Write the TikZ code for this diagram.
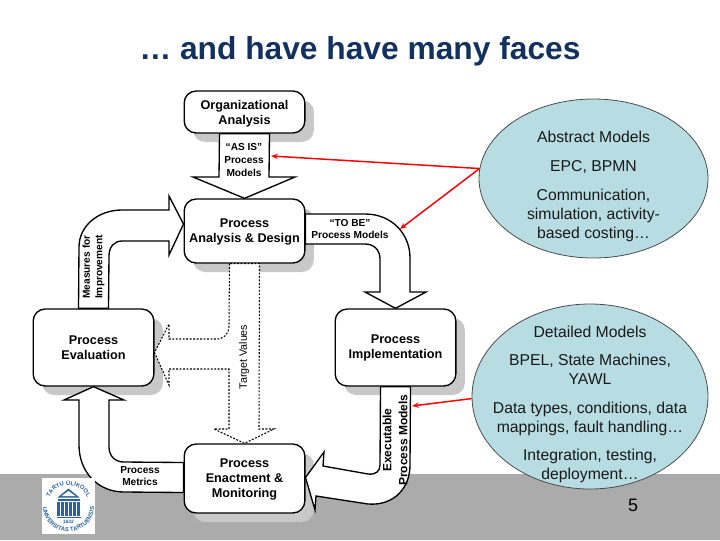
\documentclass[tikz,border=0pt]{standalone}
\usepackage{fontspec}
\usepackage{xcolor}
\setmainfont{Liberation Sans}
\usetikzlibrary{arrows.meta, positioning, calc, shapes.geometric, shadows, decorations.text}

\definecolor{titleblue}{HTML}{13315F}
\definecolor{bandgray}{HTML}{ABABAB}
\definecolor{shadowgray}{HTML}{C8C8C8}
\definecolor{modelblue}{HTML}{B7DDE3}
\definecolor{logoblue}{HTML}{2A62A0}

\newcommand{\cloudtext}[1]{\smash{\makebox[0pt]{\raisebox{-9.2pt}{\begin{tabular}{@{}c@{}}#1\end{tabular}}}}}

\tikzset{
  procbox/.style={draw=black, fill=white, line width=1pt, rounded corners=9pt, align=center,
    minimum width=90.5pt, inner sep=0pt, font=\fontsize{9.5}{11.3}\selectfont\bfseries,
    copy shadow={shadow xshift=6.75pt, shadow yshift=-6.75pt, draw=none, fill=shadowgray}},
  blockarrow/.style={draw=black, fill=white, line width=1pt, line join=miter},
  targetarrow/.style={draw=black, fill=white, line width=.8pt, dash pattern=on 1.4pt off 1.2pt},
  flowlabel/.style={align=center, inner sep=0pt, font=\fontsize{7.6}{9.4}\selectfont\bfseries},
  modelcloud/.style={ellipse, draw=black!70, fill=modelblue, line width=.6pt, inner sep=0pt,
    align=center, text=black!90, font=\fontsize{11.8}{14.25}\selectfont},
  redarrow/.style={draw=red, line width=1.1pt, -{Stealth[length=5pt,width=4pt]}}
}

\begin{document}
\begin{tikzpicture}[x=.75pt, y=-.75pt]
  \useasboundingbox (0,0) rectangle (720,540);
  \fill[bandgray] (0,474) rectangle (720,540);

  \node[anchor=center, text=titleblue, font=\fontsize{23.8}{28}\selectfont\bfseries] (title) at (360,51) {… and have have many faces};

  % process boxes
  \node[procbox, text depth=0pt, minimum height=31.5pt] (orgbox) at (244.5,112) {Organizational\\Analysis};
  \node[procbox, text depth=0pt, minimum height=48pt] (designbox) at (244.5,231) {Process\\Analysis \& Design};
  \node[procbox, minimum height=57.75pt] (evalbox) at (93.5,347.5) {Process\\Evaluation};
  \node[procbox, minimum height=57.75pt] (implbox) at (395.5,347.5) {Process\\Implementation};
  \node[procbox, text depth=0pt, minimum height=51.75pt] (enactbox) at (244.5,478.5) {Process\\Enactment \&\\Monitoring};

  % block arrows between the boxes
  \draw[blockarrow] ($(orgbox.south)+(-25,0)$) -- (219,177) -- (193,177) -- (designbox.north)
    -- (295,177) -- (269,177) -- ($(orgbox.south)+(25,0)$) -- cycle;
  \draw[blockarrow] ($(evalbox.north)+(-15,0)$) -- (79,247) .. controls (79,226) and (98,210) .. (122,210)
    -- (169,210) -- (169,196) -- ($(designbox.west)+(0,-7)$) -- (169,255) -- (169,241) -- (122,241)
    .. controls (114,241) and (109,247) .. (109,256) -- ($(evalbox.north)+(15,0)$) -- cycle;
  \draw[blockarrow] ($(designbox.east)+(0,-17)$) -- (365,214) .. controls (392,214) and (410,234) .. (410,258)
    -- (410,292) -- (426,292) -- (implbox.north) -- (365,292) -- (380,292) -- (380,259)
    .. controls (380,250) and (374,244) .. (365,244) -- ($(designbox.east)+(0,13)$) -- cycle;
  \draw[blockarrow] ($(implbox.south)+(-15,0)$) -- (380,465) .. controls (380,471) and (376,475) .. (368,474)
    -- (323,466) -- (324,452) -- ($(enactbox.east)+(0,-1)$) -- (315,510) -- (316,496) -- (368,504)
    .. controls (394,506) and (410,488) .. (410,465) -- ($(implbox.south)+(15,0)$) -- cycle;
  \draw[blockarrow] ($(enactbox.west)+(0,-16)$) -- (124,462) .. controls (115,462) and (109,456) .. (109,447)
    -- (109,400) -- (124,400) -- (evalbox.south) -- (64,400) -- (79,400) -- (79,445)
    .. controls (79,472) and (98,492) .. (124,492) -- ($(enactbox.west)+(0,14)$) -- cycle;
  \draw[targetarrow] ($(designbox.south)+(-15,0)$) -- (229,326) .. controls (229,334) and (224,339) .. (216,339)
    -- (169,339) -- (169,324) -- ($(evalbox.east)+(0,5)$) -- (169,385) -- (169,369) -- (229,369)
    -- (229,429) -- (214,429) -- (enactbox.north) -- (274,429) -- (259,429)
    -- ($(designbox.south)+(15,0)$) -- cycle;

  % labels on the arrows
  \node[flowlabel] (asis) at (244,160) {“AS IS”\\Process\\Models};
  \node[flowlabel] (tobe) at (350,229) {“TO BE”\\Process Models};
  \node[flowlabel] (metrics) at (140,476) {Process\\Metrics};
  \node[flowlabel, rotate=90] (measures) at (93.5,267) {Measures for\\Improvement};
  \node[flowlabel, rotate=90, font=\fontsize{9}{12}\selectfont\bfseries] (executable) at (395,440) {Executable\\Process Models};
  \node[rotate=90, inner sep=0pt, font=\fontsize{8}{10}\selectfont] (target) at (244,357) {Target Values};

  % models
  \node[modelcloud, minimum width=171.75pt, minimum height=119.25pt] (abstract) at (593.5,178.5)
    {\cloudtext{Abstract Models\\[7.2pt] EPC, BPMN\\[7.2pt] Communication,\\ simulation, activity-\\ based costing…}};
  \node[modelcloud, minimum width=177pt, minimum height=138.75pt] (detailed) at (590,396.5)
    {\cloudtext{Detailed Models\\[7.2pt] BPEL, State Machines,\\ YAWL\\[7.2pt] Data types, conditions, data\\ mappings, fault handling…\\[7.2pt] Integration, testing,\\ deployment…}};

  \coordinate (asistip) at (271,156);
  \coordinate (tobetip) at (400,229);
  \coordinate (exectip) at (412,406);
  \draw[redarrow] (abstract.175) -- (asistip);
  \draw[redarrow] (abstract.175) -- (tobetip);
  \draw[redarrow] (detailed.181) -- (exectip);

  \node[font=\fontsize{13.5}{16}\selectfont, text=black] (pagenum) at (633,505) {5};

  % logo
  \node[fill=white, minimum width=39.75pt, minimum height=42pt, inner sep=0pt] (logo) at (68.5,506) {};
  \begin{scope}[shift={(68.5,505.5)}, x=.75pt, y=.75pt]
    \fill[logoblue] (-11,8) -- (0,17) -- (11,8) -- cycle;
    \fill[white] (-7,9.5) -- (0,14.5) -- (7,9.5) -- cycle;
    \fill[logoblue] (-11,5) rectangle (11,7);
    \foreach \colx in {-10,-6,-2,2,6,10}
      \fill[logoblue] (\colx-1.3,-10) rectangle (\colx+1.3,4);
    \fill[logoblue] (-12,-12.5) rectangle (12,-11);
    \node[text=logoblue, inner sep=0pt, font=\fontsize{3.6}{4}\selectfont\bfseries] (logoyear) at (0,-16.5) {1632};
    \path[decorate, decoration={text along path, text align=center,
      text={|\fontsize{4.4}{5}\selectfont\bfseries\color{logoblue}|TARTU ÜLIKOOL}}]
      (-20.5,0) arc[start angle=180, end angle=0, radius=20.5];
    \path[decorate, decoration={text along path, text align=center,
      text={|\fontsize{4.4}{5}\selectfont\bfseries\color{logoblue}|UNIVERSITAS TARTUENSIS}}]
      (-25.3,4) arc[start angle=170, end angle=370, radius=25.7];
  \end{scope}
\end{tikzpicture}
\end{document}
